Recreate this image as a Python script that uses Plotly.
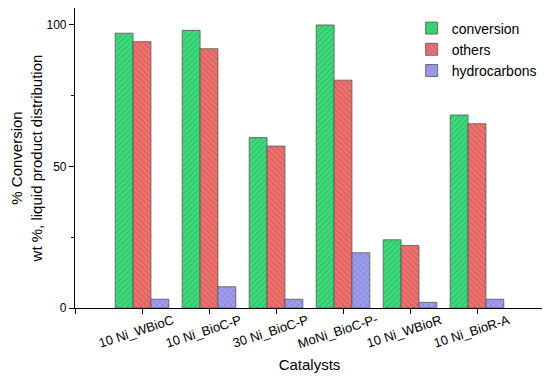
import plotly.graph_objects as go

categories = ["10 Ni_WBioC", "10 Ni_BioC-P", "30 Ni_BioC-P", "MoNi_BioC-P-", "10 Ni_WBioR", "10 Ni_BioR-A"]
positions = [1, 2, 3, 4, 5, 6]
conversion = [97.1, 98.1, 60.2, 100.0, 24.1, 68.2]
others = [94.1, 91.6, 57.2, 80.5, 22.1, 65.1]
hydrocarbons = [3.1, 7.5, 3.1, 19.5, 2.0, 3.1]

FONT = "Arial, Liberation Sans, sans-serif"

fig = go.Figure()
series = [
    ("conversion", conversion, "#35E07E", "#5A8A50", "/"),
    ("others", others, "#F4716D", "#A85650", "\\"),
    ("hydrocarbons", hydrocarbons, "#A09DEC", "#6E6CC8", "x"),
]
for name, vals, col, fg, shape in series:
    fig.add_trace(go.Bar(
        x=positions, y=vals, name=name,
        marker=dict(color=col, line=dict(color="#555555", width=0.8),
                    pattern=dict(shape=shape, fgcolor=fg, size=4, solidity=0.35, fillmode="overlay")),
    ))

for p, lab in zip(positions, categories):
    fig.add_annotation(x=p, y=0, xref="x", yref="paper", text=lab, showarrow=False,
                       textangle=-18, xshift=-6, yshift=-23, yanchor="middle", xanchor="center",
                       font=dict(family=FONT, size=13, color="#000"))

# the page body has an 8px default margin, so margins are shifted to compensate
fig.update_layout(
    width=550, height=379,
    margin=dict(l=67, r=14, t=0, b=79, autoexpand=False),
    paper_bgcolor="white", plot_bgcolor="white",
    barmode="group", bargap=0.2, bargroupgap=0,
    font=dict(family=FONT, size=12, color="#000"),
    showlegend=True,
    legend=dict(x=0.995, y=0.985, xanchor="right", yanchor="top", bgcolor="rgba(0,0,0,0)",
                font=dict(family=FONT, size=14), tracegroupgap=0),
    xaxis=dict(range=[0, 7], tickvals=[0, 1, 2, 3, 4, 5, 6, 7], ticktext=[""] * 8,
               ticks="outside", ticklen=5, tickcolor="#000", showline=True, linecolor="#000",
               linewidth=1.2, mirror=True, showgrid=False, zeroline=False, automargin=False,
               title=dict(text="Catalysts", font=dict(family=FONT, size=15), standoff=43)),
    yaxis=dict(range=[0, 106], tickvals=[0, 50, 100], ticks="outside", ticklen=5, tickcolor="#000",
               minor=dict(tickvals=[25, 75], ticks="outside", ticklen=3, tickcolor="#000"),
               showline=True, linecolor="#000", linewidth=1.2, mirror=True, showgrid=False,
               zeroline=False, tickfont=dict(size=12), automargin=False,
               title=dict(text="% Conversion<br>wt %, liquid product distribution",
                          font=dict(family=FONT, size=15), standoff=4)),
)

fig.write_html("out.html")
